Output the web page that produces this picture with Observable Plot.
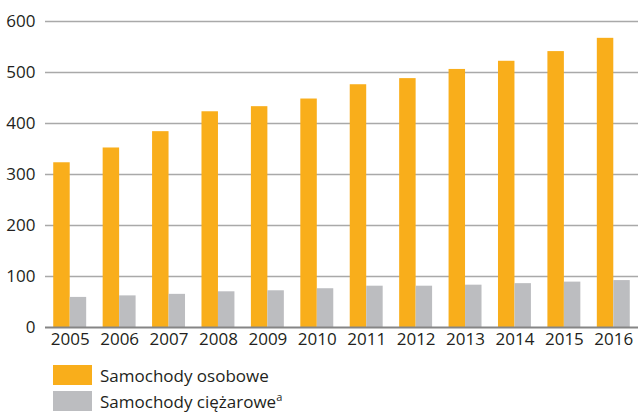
<!DOCTYPE html>
<html>
<head>
<meta charset="utf-8">
<script src="https://cdn.jsdelivr.net/npm/d3@7"></script>
<script src="https://cdn.jsdelivr.net/npm/@observablehq/plot@0.6"></script>
<style>
  body { margin: 0; background: #fff; font-family: "Open Sans", sans-serif; color: #231f20; overflow: hidden; }
  #legend { margin-left: 53px; margin-top: 7px; }
  .row { display: flex; align-items: center; height: 20px; margin-bottom: 6px; font-size: 17px; }
  .sw { width: 39px; height: 20px; margin-right: 8px; flex: none; }
  sup { font-size: 11px; vertical-align: 7px; line-height: 0; }
</style>
</head>
<body>
<div id="chart"></div>
<div id="legend"></div>
<script>
const years = [2005, 2006, 2007, 2008, 2009, 2010, 2011, 2012, 2013, 2014, 2015, 2016];
const osobowe = [323, 352, 384, 423, 433, 448, 476, 488, 506, 522, 541, 567];
const ciezarowe = [59, 62, 65, 70, 72, 76, 81, 81, 83, 86, 89, 92];
const yTicks = [0, 100, 200, 300, 400, 500, 600];
const seriesNames = ["Samochody osobowe", "Samochody ciężarowe"];
const colors = ["#f9ae1b", "#bcbdc0"];

const dataO = years.map((y, i) => ({year: y, value: osobowe[i]}));
const dataC = years.map((y, i) => ({year: y, value: ciezarowe[i]}));
const half = 1 / 3;

const chart = Plot.plot({
  width: 638,
  height: 358,
  marginTop: 21,
  marginBottom: 31,
  marginLeft: 45,
  marginRight: 0,
  style: {fontFamily: "Open Sans, sans-serif", fontSize: "17px", color: "#231f20", background: "#fff"},
  x: {domain: [years[0] - 0.5, years[years.length - 1] + 0.5], ticks: years, tickFormat: d => String(d), tickSize: 0, tickPadding: 5, label: null},
  y: {domain: [0, 600], ticks: yTicks, tickSize: 0, tickPadding: 10, label: null},
  marks: [
    Plot.ruleY(yTicks.filter(t => t > 0), {stroke: "#a9a9a9", strokeWidth: 1.4}),
    Plot.rectY(dataO, {x1: d => d.year - half, x2: d => d.year, y: "value", fill: colors[0]}),
    Plot.rectY(dataC, {x1: d => d.year, x2: d => d.year + half, y: "value", fill: colors[1]}),
    Plot.ruleY([0], {stroke: "#858585", strokeWidth: 2})
  ]
});
document.getElementById("chart").appendChild(chart);

const legend = document.getElementById("legend");
seriesNames.forEach((name, i) => {
  const row = document.createElement("div");
  row.className = "row";
  const sw = document.createElement("div");
  sw.className = "sw";
  sw.style.background = colors[i];
  row.appendChild(sw);
  const t = document.createElement("span");
  t.textContent = name;
  if (i === 1) { const s = document.createElement("sup"); s.textContent = "a"; t.appendChild(s); }
  row.appendChild(t);
  legend.appendChild(row);
});
</script>
</body>
</html>
